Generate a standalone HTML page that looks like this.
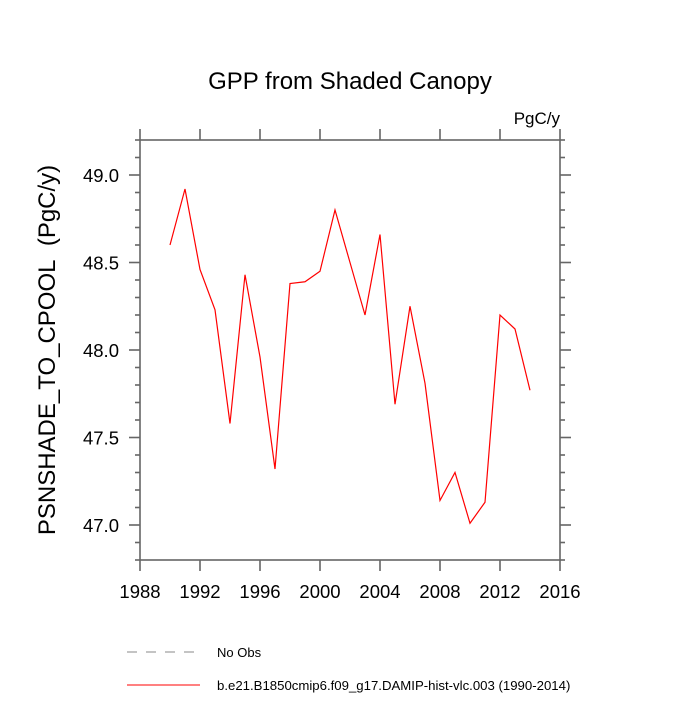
<!DOCTYPE html>
<html><head><meta charset="utf-8"><style>
body{margin:0;background:#fff}
svg text{font-family:"Liberation Sans",sans-serif;fill:#000}
</style></head><body>
<svg width="700" height="700" viewBox="0 0 700 700">
<text x="350" y="89" font-size="24" text-anchor="middle">GPP from Shaded Canopy</text>
<text x="560" y="124" font-size="17" text-anchor="end">PgC/y</text>
<text transform="translate(55,350) rotate(-90)" font-size="24" text-anchor="middle">PSNSHADE_TO_CPOOL&#160;&#160;(PgC/y)</text>
<g id="axes"></g>
<polyline id="series" fill="none" stroke="#ff0000" stroke-width="1.2"/>
<line x1="127" y1="652" x2="200" y2="652" stroke="#888" stroke-dasharray="10,9"/>
<text x="217" y="657" font-size="13">No Obs</text>
<line x1="127" y1="685" x2="200" y2="685" stroke="#ff0000"/>
<text x="217" y="690" font-size="13.2">b.e21.B1850cmip6.f09_g17.DAMIP-hist-vlc.003 (1990-2014)</text>
</svg>
<script>
const years=[1990,1991,1992,1993,1994,1995,1996,1997,1998,1999,2000,2001,2002,2003,2004,2005,2006,2007,2008,2009,2010,2011,2012,2013,2014];
const values=[48.60,48.92,48.46,48.23,47.58,48.43,47.96,47.32,48.38,48.39,48.45,48.80,48.50,48.20,48.66,47.69,48.25,47.81,47.14,47.30,47.01,47.13,48.20,48.12,47.77];
const xTicks=[1988,1992,1996,2000,2004,2008,2012,2016];
const yTicks=[47.0,47.5,48.0,48.5,49.0];
const X0=140,X1=560,Y0=140,Y1=560,xmin=1988,xmax=2016,ymin=46.8,ymax=49.2;
const sx=v=>X0+(v-xmin)/(xmax-xmin)*(X1-X0);
const sy=v=>Y1-(v-ymin)/(ymax-ymin)*(Y1-Y0);
const NS="http://www.w3.org/2000/svg";
const g=document.getElementById('axes');
function ln(x1,y1,x2,y2,name){const l=document.createElementNS(NS,'line');
l.setAttribute('x1',x1);l.setAttribute('y1',y1);l.setAttribute('x2',x2);l.setAttribute('y2',y2);
l.setAttribute('stroke','#666');l.setAttribute('stroke-width','1.6');


g.appendChild(l);}
function tx(x,y,s,anchor,name){const t=document.createElementNS(NS,'text');
t.setAttribute('x',x);t.setAttribute('y',y);t.setAttribute('font-size','18.5');t.setAttribute('text-anchor',anchor);t.textContent=s;


g.appendChild(t);}
const r=document.createElementNS(NS,'rect');
r.setAttribute('x',X0);r.setAttribute('y',Y0);r.setAttribute('width',X1-X0);r.setAttribute('height',Y1-Y0);
r.setAttribute('fill','none');r.setAttribute('stroke','#666');r.setAttribute('stroke-width','1.6');


g.appendChild(r);
xTicks.forEach(v=>{const x=sx(v);ln(x,Y1,x,Y1+11,'x-tick');ln(x,Y0,x,Y0-11,'x-tick-top');tx(x,Y1+38,String(v),'middle','x-tick-label');});
for(let k=Math.round(ymin*10);k<=Math.round(ymax*10);k++){const v=k/10,y=sy(v);
 const major=k%5===0;const L=major?11:5;
 ln(X0,y,X0-L,y,'y-tick');ln(X1,y,X1+L,y,'y-tick-right');}
yTicks.forEach(v=>tx(X0-21,sy(v)+7,v.toFixed(1),'end','y-tick-label'));
document.getElementById('series').setAttribute('points',years.map((y,i)=>sx(y)+','+sy(values[i])).join(' '));
</script>
</body></html>
